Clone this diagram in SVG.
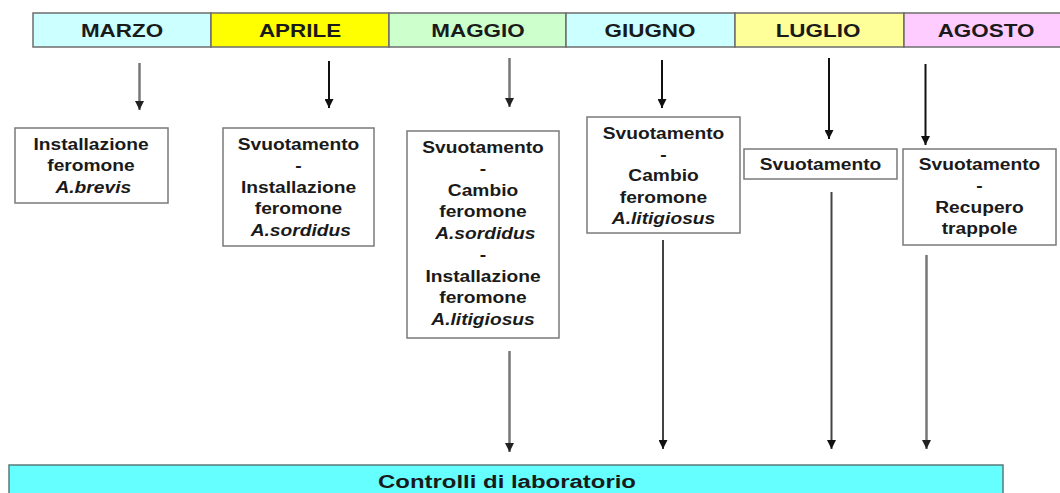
<svg xmlns="http://www.w3.org/2000/svg" width="1060" height="493" viewBox="0 0 1060 493">
<style>
.hdr{stroke:#6e6e6e;stroke-width:1.5}
.ht{font-family:"Liberation Sans",Arial,sans-serif;font-weight:bold;font-size:19px;fill:#1a1a1a;text-anchor:middle}
.box{fill:#fff;stroke:#7a7a7a;stroke-width:1.5}
.bt{font-family:"Liberation Sans",Arial,sans-serif;font-weight:bold;font-size:17px;fill:#1a1a1a;text-anchor:middle}
.it{font-style:italic}
.cb{stroke:#111;stroke-width:2;fill:none}
.cg{stroke:#777;stroke-width:2.5;fill:none}
.cd{stroke:#444;stroke-width:2;fill:none}
</style>
<defs>
<marker id="ah" viewBox="0 0 10 10" refX="10" refY="5" markerWidth="4.5" markerHeight="4.5" orient="auto" markerUnits="strokeWidth">
<path d="M0,0 L10,5 L0,10 z" fill="#111"/>
</marker>
<marker id="ahg" viewBox="0 0 10 10" refX="10" refY="5" markerWidth="3.6" markerHeight="3.6" orient="auto" markerUnits="strokeWidth">
<path d="M0,0 L10,5 L0,10 z" fill="#222"/>
</marker>
</defs>

<g id="header">
<g id="h-marzo"><rect class="hdr" x="33" y="13" width="178" height="34" fill="#ccffff"/><text class="ht" transform="translate(122,37) scale(1.18,1)">MARZO</text></g>
<g id="h-aprile"><rect class="hdr" x="211" y="13" width="178" height="34" fill="#ffff00"/><text class="ht" transform="translate(300,37) scale(1.18,1)">APRILE</text></g>
<g id="h-maggio"><rect class="hdr" x="389" y="13" width="177" height="34" fill="#ccffcc"/><text class="ht" transform="translate(478,37) scale(1.18,1)">MAGGIO</text></g>
<g id="h-giugno"><rect class="hdr" x="566" y="13" width="169" height="34" fill="#ccffff"/><text class="ht" transform="translate(650,37) scale(1.18,1)">GIUGNO</text></g>
<g id="h-luglio"><rect class="hdr" x="735" y="13" width="169" height="34" fill="#ffff99"/><text class="ht" transform="translate(818,37) scale(1.18,1)">LUGLIO</text></g>
<g id="h-agosto"><rect class="hdr" x="904" y="13" width="170" height="34" fill="#ffccff"/><text class="ht" transform="translate(986,37) scale(1.18,1)">AGOSTO</text></g>
</g>

<g id="connectors">
<line class="cg" x1="139.5" y1="63" x2="139.5" y2="110" marker-end="url(#ahg)"/>
<line class="cb" x1="329" y1="61" x2="329" y2="108" marker-end="url(#ah)"/>
<line class="cg" x1="509.5" y1="58" x2="509.5" y2="107" marker-end="url(#ahg)"/>
<line class="cb" x1="662" y1="60" x2="662" y2="108" marker-end="url(#ah)"/>
<line class="cb" x1="829" y1="58" x2="829" y2="139" marker-end="url(#ah)"/>
<line class="cb" x1="925.5" y1="64" x2="925.5" y2="145" marker-end="url(#ah)"/>
<line class="cg" x1="509.5" y1="351" x2="509.5" y2="452" marker-end="url(#ahg)"/>
<line class="cd" x1="663" y1="240" x2="663" y2="449" marker-end="url(#ah)"/>
<line class="cd" x1="831.5" y1="192" x2="831.5" y2="449" marker-end="url(#ah)"/>
<line class="cg" x1="926.5" y1="255" x2="926.5" y2="449" marker-end="url(#ahg)"/>
</g>

<g id="n-marzo">
<rect class="box" x="15" y="128" width="153" height="75"/>
<text class="bt" transform="translate(91,150) scale(1.13,1)"><tspan x="0">Installazione</tspan><tspan x="0" dy="21.5">feromone</tspan><tspan x="2" dy="21.5" class="it">A.brevis</tspan></text>
</g>
<g id="n-aprile">
<rect class="box" x="223" y="128" width="151" height="118"/>
<text class="bt" transform="translate(298.5,150) scale(1.13,1)"><tspan x="0">Svuotamento</tspan><tspan x="0" dy="21.5">-</tspan><tspan x="0" dy="21.5">Installazione</tspan><tspan x="0" dy="21.5">feromone</tspan><tspan x="2" dy="21.5" class="it">A.sordidus</tspan></text>
</g>
<g id="n-maggio">
<rect class="box" x="407" y="131" width="152" height="207"/>
<text class="bt" transform="translate(483,153) scale(1.13,1)"><tspan x="0">Svuotamento</tspan><tspan x="0" dy="21.5">-</tspan><tspan x="0" dy="21.5">Cambio</tspan><tspan x="0" dy="21.5">feromone</tspan><tspan x="2" dy="21.5" class="it">A.sordidus</tspan><tspan x="0" dy="21.5">-</tspan><tspan x="0" dy="21.5">Installazione</tspan><tspan x="0" dy="21.5">feromone</tspan><tspan x="0" dy="21.5" class="it">A.litigiosus</tspan></text>
</g>
<g id="n-giugno">
<rect class="box" x="587" y="117" width="153" height="116"/>
<text class="bt" transform="translate(663.5,138.5) scale(1.13,1)"><tspan x="0">Svuotamento</tspan><tspan x="0" dy="21.5">-</tspan><tspan x="0" dy="21.5">Cambio</tspan><tspan x="0" dy="21.5">feromone</tspan><tspan x="0" dy="21.5" class="it">A.litigiosus</tspan></text>
</g>
<g id="n-luglio">
<rect class="box" x="744" y="149" width="153" height="30"/>
<text class="bt" transform="translate(820.5,170) scale(1.13,1)"><tspan x="0">Svuotamento</tspan></text>
</g>
<g id="n-agosto">
<rect class="box" x="903" y="149" width="153" height="96"/>
<text class="bt" transform="translate(979.5,170) scale(1.13,1)"><tspan x="0">Svuotamento</tspan><tspan x="0" dy="21.5">-</tspan><tspan x="0" dy="21.5">Recupero</tspan><tspan x="0" dy="21.5">trappole</tspan></text>
</g>

<g id="n-lab">
<rect x="9" y="465" width="994" height="40" fill="#66ffff" stroke="#5a7a7a" stroke-width="1.5"/>
<text class="ht" font-size="20" transform="translate(507,488) scale(1.26,1)">Controlli di laboratorio</text>
</g>
</svg>
